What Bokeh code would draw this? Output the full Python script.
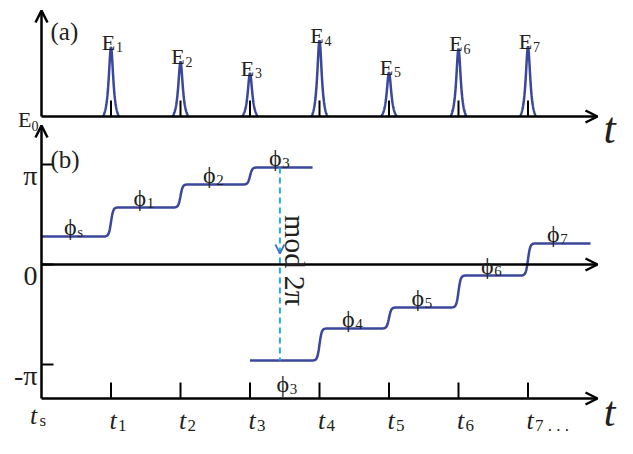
import numpy as np
from bokeh.plotting import figure
from bokeh.models import Range1d, Arrow, OpenHead, Label
from bokeh.embed import file_html
from bokeh.resources import INLINE

# ---------------- data ----------------
t_pulse = [1, 2, 3, 4, 5, 6, 7]                      # pulse times t1..t7
t_subs = ["1", "2", "3", "4", "5", "6", "7 . . ."]
E_subs = ["1", "2", "3", "4", "5", "6", "7"]
E_amp = [0.91, 0.72, 0.57, 1.00, 0.58, 0.89, 0.92]   # relative pulse energies
phi_up_subs = ["s", "1", "2", "3"]
phi_up = [0.28, 0.57, 0.80, 0.97]                    # phases (units of pi) before wrapping
phi_low_subs = ["3", "4", "5", "6", "7"]
phi_low = [-0.96, -0.64, -0.43, -0.11, 0.21]         # phases after mod 2pi
phase_ticks = [1, 0, -1]
phase_tick_labels = ["\u03c0", "0", "-\u03c0"]
up_span = [0.0, 3.9]       # time span of the un-wrapped branch
low_span = [3.0, 7.9]      # time span of the wrapped branch
wrap_t = 3.43              # time of the mod 2pi arrow
t_axis_end = 8.0
# ---------------------------------------

W, H = 617, 438
PX_T, X0 = 69.5, 41          # px per time unit, origin px
PX_PHI, Y0_PHI = 100.0, 264  # px per pi, zero-phase px from top
PX_E, Y0_E = 76.0, 116       # px per energy unit, baseline px from top

FONT = "Liberation Serif"
TXT = "#231f20"
BLUE = "#3a479d"

p = figure(width=W, height=H, output_backend="svg", toolbar_location=None,
           x_range=Range1d(-X0 / PX_T, (W - X0) / PX_T),
           y_range=Range1d(-(H - Y0_PHI) / PX_PHI, Y0_PHI / PX_PHI),
           x_axis_location=None, y_axis_location=None,
           min_border=0, outline_line_color=None)
p.extra_y_ranges = {"E": Range1d(-(H - Y0_E) / PX_E, Y0_E / PX_E)}
p.grid.visible = False

e_top = 106 / PX_E
bottom_phi = -134 / PX_PHI
top_phi = 139 / PX_PHI


def label(x, y, text, size, align="left", dx=0, dy=0, style="normal",
          rng="default", angle=0.0, baseline="alphabetic"):
    """dx, dy: screen-pixel offsets (dy positive = downwards)."""
    p.add_layout(Label(x=x, y=y, text=text, text_font=FONT, text_font_size=size,
                       text_font_style=style, text_color=TXT, text_align=align,
                       text_baseline=baseline, x_offset=dx, y_offset=-dy,
                       angle=angle, y_range_name=rng))


def arrow(x0, y0, x1, y1, rng="default"):
    p.add_layout(Arrow(x_start=x0, y_start=y0, x_end=x1, y_end=y1,
                       line_width=2.5, line_color="black",
                       end=OpenHead(size=12, line_width=2.5, line_color="black"),
                       y_range_name=rng))


# ---------- panel (a): pulses ----------
arrow(0, 0, 0, e_top, "E")
arrow(0, 0, t_axis_end, 0, "E")

w = 2.8
dxp = np.linspace(-8, 8, 81)
L = 1 / (1 + (dxp / w) ** 2)
Lend = 1 / (1 + (8 / w) ** 2)
shape = (L - Lend) / (1 - Lend)
xs = [list(t + dxp / PX_T) for t in t_pulse]
ys = [list(a * shape) for a in E_amp]
p.multi_line(xs=xs, ys=ys, line_color=BLUE, line_width=2.5, y_range_name="E")
p.segment(x0=t_pulse, y0=[0] * 7, x1=t_pulse, y1=[16 / PX_E] * 7,
          line_color="black", line_width=2, y_range_name="E")

for t, a, s in zip(t_pulse, E_amp, E_subs):
    label(t, a, "E", "22px", "center", dx=-2.5, dy=-5, rng="E")
    label(t, a, s, "14px", "left", dx=5, dy=0, rng="E")
label(0, 0, "E", "22px", "right", dx=-10, dy=3, rng="E")
label(0, 0, "0", "14px", "left", dx=-10, dy=9, rng="E")
label(0, e_top, "(a)", "25px", "left", dx=9, dy=21, rng="E")
label(t_axis_end, 0, "t", "44px", "center", dx=12, dy=12, style="italic", rng="E")

# ---------- panel (b): phases ----------
arrow(0, bottom_phi, 0, top_phi)
arrow(0, 0, t_axis_end, 0)
arrow(0, bottom_phi, t_axis_end, bottom_phi)

p.segment(x0=[0] * 3, y0=phase_ticks, x1=[12 / PX_T] * 3, y1=phase_ticks,
          line_color="black", line_width=2)
for v, s in zip(phase_ticks, phase_tick_labels):
    label(0, v, s, "28px", "right", dx=-4, dy=11)

p.segment(x0=t_pulse, y0=[bottom_phi] * 7, x1=t_pulse, y1=[bottom_phi + 16 / PX_PHI] * 7,
          line_color="black", line_width=2)

sw = 2.2 / PX_T
def step_curve(span, levels, times):
    x = np.linspace(span[0], span[1], 600)
    y = np.full_like(x, levels[0])
    for lv0, lv1, tk in zip(levels[:-1], levels[1:], times):
        y += (lv1 - lv0) * 0.5 * (1 + np.tanh((x - tk) / sw))
    return x, y

xu, yu = step_curve(up_span, phi_up, t_pulse[:3])
xl, yl = step_curve(low_span, phi_low, t_pulse[3:])
p.line(xu, yu, line_color=BLUE, line_width=2.5)
p.line(xl, yl, line_color=BLUE, line_width=2.5)

# labels of plateaus
edges_up = [up_span[0]] + t_pulse[:3] + [up_span[1]]
mid_up = [(a + b) / 2 for a, b in zip(edges_up[:-1], edges_up[1:])]
edges_low = [low_span[0]] + t_pulse[3:] + [low_span[1]]
mid_low = [(a + b) / 2 for a, b in zip(edges_low[:-1], edges_low[1:])]
PHI = "\u03d5"
for xm, v, s in zip(mid_up + mid_low[1:], phi_up + phi_low[1:], phi_up_subs + phi_low_subs[1:]):
    label(xm, v, PHI, "24px", "center", dx=-6, dy=-10)
    label(xm, v, s, "15px", "left", dx=1, dy=-5)
label(mid_low[0], phi_low[0], PHI, "24px", "center", dx=-2, dy=23)
label(mid_low[0], phi_low[0], phi_low_subs[0], "15px", "left", dx=5, dy=28)

# mod 2pi
p.segment(x0=[wrap_t], y0=[phi_up[-1]], x1=[wrap_t], y1=[phi_low[0]],
          line_color="#2aa8e0", line_width=2, line_dash="6 4")
p.add_layout(Arrow(x_start=wrap_t, y_start=0.3, x_end=wrap_t, y_end=0.11,
                   line_alpha=0,
                   end=OpenHead(size=9, line_width=1.8, line_color="#3d78c2")))
label(wrap_t, 0, "mod 2\u03c0", "30px", "center", dx=16, dy=-4,
      angle=-np.pi / 2, baseline="middle")

label(0, top_phi, "(b)", "25px", "left", dx=9, dy=34)

# time axis labels
for t, s in zip(t_pulse, t_subs):
    label(t, bottom_phi, "t", "26px", "center", dx=2, dy=22, style="italic")
    label(t, bottom_phi, s, "17px", "left", dx=7, dy=27)
label(0, bottom_phi, "t", "26px", "center", dx=-8, dy=17, style="italic")
label(0, bottom_phi, "s", "17px", "left", dx=-2, dy=22)
label(t_axis_end, bottom_phi, "t", "42px", "center", dx=12, dy=13, style="italic")

open("out.html", "w").write(file_html(p, INLINE))
